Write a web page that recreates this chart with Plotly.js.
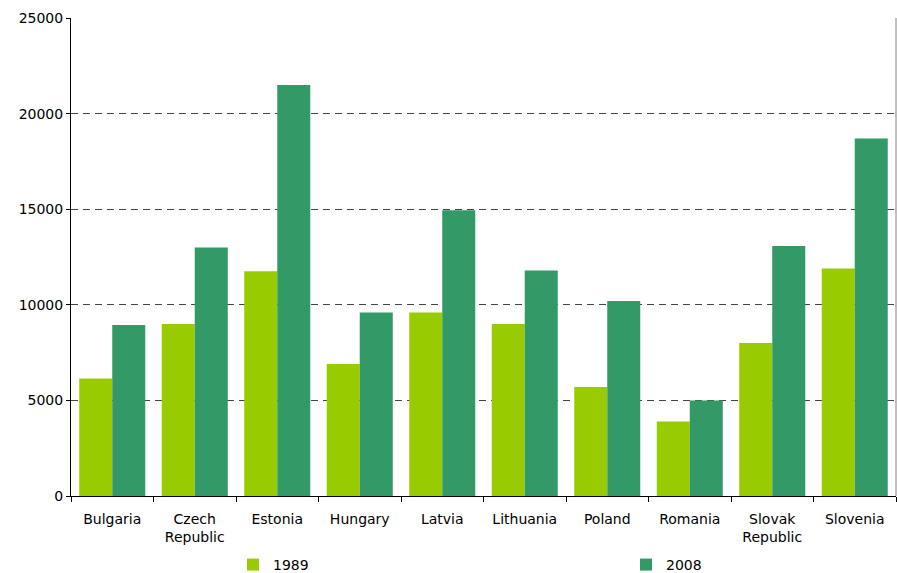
<!DOCTYPE html>
<html>
<head>
<meta charset="utf-8">
<script src="https://cdn.plot.ly/plotly-3.0.1.min.js"></script>
<style>html,body{margin:0;padding:0;background:#fff;}#chart{width:897px;height:573px;}</style>
</head>
<body>
<div id="chart"></div>
<script>
const categories = ["Bulgaria", "Czech<br>Republic", "Estonia", "Hungary", "Latvia", "Lithuania", "Poland", "Romania", "Slovak<br>Republic", "Slovenia"];
const values1989 = [6150, 9000, 11750, 6900, 9600, 9000, 5700, 3900, 8000, 11900];
const values2008 = [8950, 13000, 21500, 9600, 14950, 11800, 10200, 5000, 13070, 18700];
const seriesNames = ["1989", "2008"];
const yTicks = [0, 5000, 10000, 15000, 20000, 25000];

const traces = [
  {type: "bar", name: seriesNames[0], x: categories, y: values1989, marker: {color: "#99CC00"}, legend: "legend"},
  {type: "bar", name: seriesNames[1], x: categories, y: values2008, marker: {color: "#339966"}, legend: "legend2"}
];

const legendBase = {orientation: "h", xref: "container", yref: "container", xanchor: "left",
                    yanchor: "middle", y: 0.014, bgcolor: "rgba(0,0,0,0)", font: {size: 14}};

const layout = {
  width: 897, height: 573,
  margin: {l: 71, r: 1, t: 18, b: 77, autoexpand: false},
  paper_bgcolor: "#fff", plot_bgcolor: "#fff",
  font: {family: "DejaVu Sans, sans-serif", size: 14, color: "#000"},
  barmode: "group", bargap: 0.2, bargroupgap: 0,
  showlegend: true,
  legend: Object.assign({}, legendBase, {x: 233 / 897}),
  legend2: Object.assign({}, legendBase, {x: 626 / 897}),
  xaxis: {type: "category", showline: true, linecolor: "#000", linewidth: 1,
          ticks: "outside", ticklen: 5, tickcolor: "#000", tickson: "boundaries",
          showgrid: false, ticklabelstandoff: 10, fixedrange: true, automargin: false},
  yaxis: {range: [0, 25000], tickvals: yTicks, showline: true, linecolor: "#000", linewidth: 1,
          ticks: "outside", ticklen: 4, tickcolor: "#000",
          showgrid: true, gridcolor: "#444", gridwidth: 1, griddash: "7px,5px",
          zeroline: false, tickformat: "d", fixedrange: true, automargin: false},
  shapes: [{type: "line", xref: "paper", yref: "paper", x0: 1, x1: 1, y0: 0, y1: 1,
            line: {color: "#808080", width: 1}}]
};

Plotly.newPlot("chart", traces, layout, {displayModeBar: false, staticPlot: true});
</script>
</body>
</html>
